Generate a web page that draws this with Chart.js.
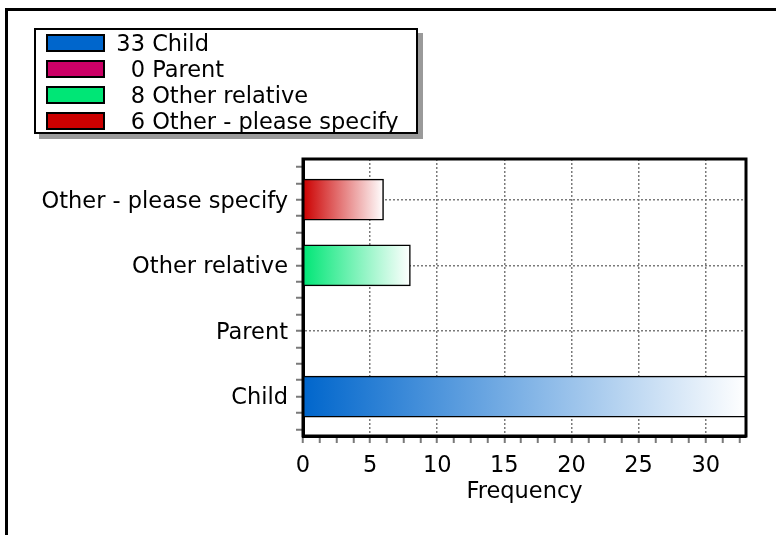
<!DOCTYPE html>
<html>
<head>
<meta charset="utf-8">
<script src="https://cdn.jsdelivr.net/npm/chart.js@4.4.1/dist/chart.umd.min.js"></script>
<style>
  html, body { margin: 0; padding: 0; background: #fff; overflow: hidden; }
  #frame { position: absolute; left: 5px; top: 8px; width: 900px; height: 700px;
           border-left: 3px solid #000; border-top: 3px solid #000; }
  #wrap { position: absolute; left: 0; top: 0; width: 776px; height: 535px; }
  #legend { position: absolute; left: 34px; top: 28px; width: 380px; height: 102px;
            border: 2px solid #000; background: #fff; box-shadow: 5px 5px 0 #9a9a9a;
            font-family: 'DejaVu Sans', sans-serif; font-size: 22.5px; color: #000;
            padding-top: 0; box-sizing: content-box; }
  #legend .row { display: flex; align-items: center; height: 26px; padding-left: 10px; }
  #legend .sw { width: 59px; height: 18px; box-sizing: border-box; border: 2px solid #000; margin-right: 11px; }
  #legend .num { display: inline-block; width: 29px; text-align: right; }
  #legend .lbl { white-space: pre; }
</style>
</head>
<body>
<div id="frame"></div>
<div id="wrap"><canvas id="chart" width="776" height="535"></canvas></div>
<div id="legend"></div>
<script>
const categories = ['Child', 'Parent', 'Other relative', 'Other - please specify'];
const frequencies = [33, 0, 8, 6];
const barColors = ['#0066cc', '#cc0066', '#00e676', '#cc0000'];
const legendOrder = [0, 1, 2, 3];

const FONT = { family: 'DejaVu Sans', size: 22.5 };
const GRID_GREY = '#7a7a7a';

// legend is html, built from the same arrays
const legendEl = document.getElementById('legend');
legendOrder.forEach(i => {
  const row = document.createElement('div');
  row.className = 'row';
  const sw = document.createElement('span');
  sw.className = 'sw';
  sw.style.background = barColors[i];
  const num = document.createElement('span');
  num.className = 'num';
  num.textContent = String(frequencies[i]);
  const lbl = document.createElement('span');
  lbl.className = 'lbl';
  lbl.textContent = ' ' + categories[i];
  row.append(sw, num, lbl);
  legendEl.appendChild(row);
});

function barGradient(ctx) {
  const chart = ctx.chart;
  const i = ctx.dataIndex;
  const base = barColors[i] || '#000';
  if (!chart.chartArea || i === undefined) return base;
  const xs = chart.scales.x;
  const x0 = xs.getPixelForValue(0);
  const x1 = xs.getPixelForValue(frequencies[i]);
  if (x1 - x0 < 1) return base;
  const g = chart.ctx.createLinearGradient(x0, 0, x1, 0);
  g.addColorStop(0, base);
  g.addColorStop(1, '#ffffff');
  return g;
}

const plotBox = {
  id: 'plotBox',
  afterDatasetsDraw(chart) {
    const { ctx, chartArea: a } = chart;
    ctx.save();
    ctx.strokeStyle = '#000';
    ctx.lineWidth = 3;
    ctx.strokeRect(a.left, a.top, a.right - a.left, a.bottom - a.top);
    ctx.restore();
  }
};

new Chart(document.getElementById('chart'), {
  type: 'bar',
  data: {
    datasets: [{
      data: categories.map((c, i) => ({ x: frequencies[i], y: i })),
      backgroundColor: barGradient,
      borderColor: '#000',
      borderWidth: 1.5,
      borderSkipped: 'start',
      barThickness: 41
    }]
  },
  options: {
    indexAxis: 'y',
    responsive: false,
    animation: false,
    layout: { padding: { left: 0, top: 159, right: 30, bottom: 0 } },
    plugins: { legend: { display: false }, tooltip: { enabled: false } },
    scales: {
      x: {
        type: 'linear',
        position: 'bottom',
        min: 0,
        max: 33,
        offset: false,
        afterFit: s => { s.height = 99; },
        ticks: {
          stepSize: 1.25,
          includeBounds: false,
          autoSkip: false,
          maxRotation: 0,
          padding: 10,
          color: '#000',
          font: FONT,
          callback: v => (v % 5 === 0 ? String(v) : '')
        },
        grid: {
          offset: false,
          color: c => (c.tick && c.tick.value % 5 === 0 && c.tick.value > 0) ? GRID_GREY : 'rgba(0,0,0,0)',
          lineWidth: 1.5,
          tickColor: GRID_GREY,
          tickLength: 7,
          tickWidth: 2
        },
        border: { color: '#000', width: 3, dash: [2, 2] },
        title: {
          display: true,
          text: 'Frequency',
          color: '#000',
          font: FONT,
          padding: { top: 0, bottom: 29 }
        }
      },
      y: {
        type: 'linear',
        position: 'left',
        min: -0.6,
        max: 3.62,
        offset: false,
        afterFit: s => { s.width = 303; },
        ticks: {
          stepSize: 0.25,
          includeBounds: false,
          autoSkip: false,
          padding: 8,
          labelOffset: 2,
          color: '#000',
          font: FONT,
          callback: v => (Number.isInteger(v) && categories[v] !== undefined ? categories[v] : '')
        },
        grid: {
          offset: false,
          color: c => (c.tick && Number.isInteger(c.tick.value)) ? GRID_GREY : 'rgba(0,0,0,0)',
          lineWidth: 1.5,
          tickColor: GRID_GREY,
          tickLength: 7,
          tickWidth: 2
        },
        border: { color: '#000', width: 3, dash: [2, 2] }
      }
    }
  },
  plugins: [plotBox]
});
</script>
</body>
</html>
